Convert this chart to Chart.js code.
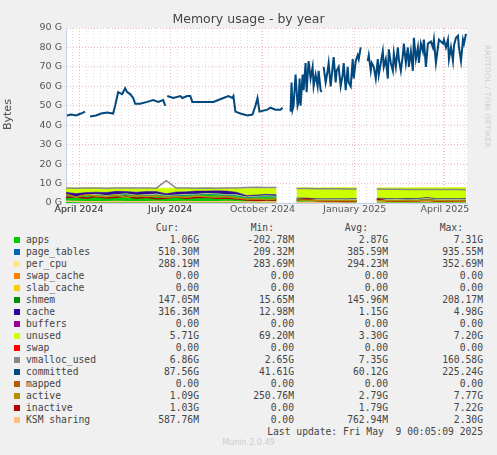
<!DOCTYPE html>
<html><head><meta charset="utf-8">
<script src="https://cdn.jsdelivr.net/npm/chart.js@4/dist/chart.umd.min.js"></script>
<style>
body{margin:0;background:#f0f0f0;width:497px;height:455px;overflow:hidden;font-family:"DejaVu Sans",sans-serif;position:relative}
#wrap{position:absolute;left:0;top:0;width:497px;height:220px}
.t{position:absolute;white-space:pre}
#title{left:0;width:497px;top:11px;text-align:center;font-size:12.5px;color:#444}
#ylab{left:-8px;top:108px;transform:rotate(-90deg);font-size:11px;color:#444}
#side{left:436px;top:92px;transform:rotate(90deg);font-size:7.5px;color:#ccc;letter-spacing:.3px}
#leg{position:absolute;left:0;top:222px;font-family:"DejaVu Sans Mono",monospace;font-size:9.7px;color:#444}
.row{position:absolute;height:12px;white-space:pre}
.sw{position:absolute;left:14px;width:6px;height:6px;top:3px}
.nm{position:absolute;left:26px}
.v{position:absolute;text-align:right;width:90px}
#munin{left:0;width:497px;top:438px;text-align:center;font-size:8px;color:#ccc}
</style></head><body>
<div id="wrap"><canvas id="c"></canvas></div>
<div class="t" id="title">Memory usage - by year</div>
<div class="t" id="ylab">Bytes</div>
<div class="t" id="side">RRDTOOL / TOBI OETIKER</div>
<div id="leg"></div>
<div class="t" id="munin">Munin 2.0.49</div>
<script>
const $ = (id) => document.getElementById(id);

// x is days since 2024-03-19
const MONTH_DAYS = [13, 104, 196, 288, 378];
const MONTH_LABELS = ['April 2024', 'July 2024', 'October 2024', 'January 2025', 'April 2025'];

const COMMIT_DAYS = [1, 5, 10, 15, 19, 21, 24, 30, 35, 41, 47, 49, 52, 56, 59, 61, 64, 67, 69, 74, 81, 87, 92, 97, 99, 100,
  101, 107, 114, 116, 121, 124, 126, 134, 147, 152, 157, 162, 166, 167, 169, 174, 181, 186, 189, 191, 193, 201, 204, 209, 214, 216, 220,
  224, 225, 226, 227, 229, 231, 232, 233, 234, 236, 237, 239, 240, 241, 242, 244, 246, 247, 249, 251, 252, 254, 255, 256,
  257, 259, 261, 262, 264, 266, 267, 269, 270, 272, 274, 276, 277, 279, 281, 282, 284, 286, 287, 289, 291, 292, 294, 297,
  301, 302, 304, 305, 307, 309, 311, 312, 314, 316, 317, 319, 321, 322, 324, 326, 327, 329, 331, 332, 334, 336, 337, 339,
  341, 342, 344, 346, 347, 349, 351, 352, 354, 356, 357, 359, 361, 364, 366, 367, 369, 371, 372, 374, 376, 377, 379,
  381, 382, 384, 386, 387, 389, 391, 392, 394, 396, 397, 399];
const COMMITTED = [45, 45.5, 45, 46, 47, null, 44.5, 45, 46, 46.5, 46, 50, 57, 56, 59, 57, 56, 54, 51, 51, 52, 53, 52, 53, 50, null,
  55, 54, 55, 54, 55, 55, 52, 52, 52, 53, 54, 55, 54, 55, 47, 46, 45, 45.5, 50, 54, 47, 48, 49, 48, 48, 49, null,
  47, 62, 48, 50, 66, 50, 52, 64, 50, 66, 58, 72, 57, 65, 73, 64, 70, 60, 66, 60, 68, 58, 57, null,
  70, 62, 68, 72, 60, 70, 75, 62, 68, 70, 60, 66, 72, 58, 70, 62, 60, 74, 64, 73, 76, 74, 80, null,
  73, 76, 68, 72, 70, 64, 74, 66, 72, 78, 70, 74, 64, 79, 72, 68, 77, 70, 80, 74, 68, 76, 82, 72,
  80, 70, 78, 68, 85, 74, 80, 72, 82, 78, 84, 70, 82, 83, 80, 84, 72, 80, 84, 83, 82, 84, 80,
  84, 74, 80, 73, 81, 85, 86, 80, 73, 84, 82, 87];

const DAYS = [0, 10, 20, 30, 40, 50, 60, 70, 80, 90, 100, 110, 120, 130, 140, 150, 160, 170, 180, 190, 200, 210, 220,
  230, 240, 250, 260, 270, 280, 290, 300, 310, 320, 330, 340, 350, 360, 370, 380, 390, 399];
const APPS = [3.0, 2.6, 3.4, 3.8, 3.2, 3.6, 4.0, 3.3, 3.5, 3.9, 3.1, 3.4, 3.7, 3.8, 4.2, 4.0, 3.6, 3.5, 2.4, 2.8, 3.0, 2.7, null,
  1.4, 1.2, 1.1, 1.0, 1.1, 1.0, 1.2, null, 1.3, 1.1, 1.0, 1.2, 1.1, 1.5, 1.0, 1.1, 1.0, 1.06];
const PAGE_TABLES = [0.3, 0.3, 0.3, 0.35, 0.35, 0.35, 0.4, 0.4, 0.4, 0.4, 0.4, 0.4, 0.4, 0.4, 0.4, 0.4, 0.4, 0.4, 0.4, 0.4, 0.4, 0.4, null,
  0.4, 0.4, 0.4, 0.4, 0.4, 0.4, 0.4, null, 0.45, 0.45, 0.45, 0.45, 0.5, 0.5, 0.5, 0.5, 0.5, 0.51];
const PER_CPU = [0.29, 0.29, 0.29, 0.29, 0.29, 0.29, 0.29, 0.29, 0.29, 0.29, 0.29, 0.29, 0.29, 0.29, 0.29, 0.29, 0.29, 0.29, 0.29, 0.29, 0.29, 0.29, null,
  0.29, 0.29, 0.29, 0.29, 0.29, 0.29, 0.29, null, 0.29, 0.29, 0.29, 0.29, 0.29, 0.29, 0.29, 0.29, 0.29, 0.29];
const SHMEM = [0.14, 0.14, 0.15, 0.15, 0.15, 0.15, 0.15, 0.15, 0.15, 0.15, 0.15, 0.15, 0.15, 0.15, 0.15, 0.15, 0.15, 0.15, 0.15, 0.15, 0.15, 0.15, null,
  0.14, 0.14, 0.14, 0.14, 0.14, 0.14, 0.14, null, 0.15, 0.15, 0.15, 0.15, 0.15, 0.15, 0.15, 0.15, 0.15, 0.15];
const CACHE = [1.8, 1.5, 1.2, 1.0, 1.4, 1.6, 1.1, 1.4, 1.6, 1.2, 0.8, 1.4, 1.2, 1.5, 1.1, 1.4, 1.7, 1.2, 0.6, 0.5, 0.6, 0.7, null,
  0.4, 0.5, 0.3, 0.3, 0.3, 0.3, 0.3, null, 0.3, 0.3, 0.3, 0.3, 0.3, 0.4, 0.3, 0.3, 0.3, 0.32];
const UNUSED = [2.2, 2.9, 2.6, 2.2, 2.2, 1.9, 1.8, 2.2, 1.8, 1.8, 2.9, 2.1, 2.0, 1.6, 1.7, 1.5, 1.5, 2.1, 3.8, 3.5, 3.2, 3.4, null,
  5.2, 5.4, 5.6, 5.8, 5.7, 5.8, 5.6, null, 5.4, 5.6, 5.7, 5.5, 5.6, 5.1, 5.7, 5.6, 5.7, 5.71];
const VMALLOC = [7.7, 7.6, 7.7, 7.7, 7.6, 7.7, 7.7, 7.7, 7.7, 7.6, 11.5, 7.7, 7.7, 7.6, 7.7, 7.6, 7.7, 7.7, 8.0, 8.1, 8.0, 8.0, null,
  7.4, 7.4, 7.3, 7.3, 7.3, 7.2, 7.2, null, 7.2, 7.1, 7.1, 7.0, 7.0, 7.0, 6.9, 6.9, 6.9, 6.86];
const ACTIVE = [4.5, 3.0, 4.2, 3.6, 3.2, 4.0, 3.0, 3.8, 3.4, 3.6, 2.8, 3.4, 3.0, 3.6, 3.2, 3.0, 3.4, 2.6, 2.0, 2.2, 1.8, 2.0, null,
  1.6, 1.4, 1.3, 1.2, 1.2, 1.2, 1.1, null, 1.2, 1.2, 1.1, 1.3, 1.2, 1.6, 1.1, 1.2, 1.1, 1.09];
const INACTIVE = [2.8, 3.2, 2.4, 3.4, 2.6, 2.9, 3.5, 2.4, 3.0, 2.2, 2.5, 3.2, 2.3, 2.8, 3.0, 2.4, 2.6, 2.2, 1.5, 1.4, 1.6, 1.5, null,
  1.4, 2.0, 1.2, 0.9, 0.9, 0.8, 0.9, null, 2.0, 1.0, 0.9, 0.9, 1.0, 1.4, 0.9, 0.9, 1.0, 1.03];
const KSM = [0.9, 0.8, 0.7, 0.6, 0.7, 0.8, 0.7, 0.6, 0.7, 0.8, 0.6, 0.7, 0.8, 0.7, 0.6, 0.7, 0.8, 0.6, 0.5, 0.5, 0.6, 0.5, null,
  0.3, 0.4, 0.4, 0.5, 0.5, 0.5, 0.6, null, 0.6, 0.6, 0.6, 0.6, 0.6, 0.6, 0.6, 0.6, 0.6, 0.59];

const LEGEND = [
  ['apps', '#00cc00', '1.06G', '-202.78M', '2.87G', '7.31G'],
  ['page_tables', '#0066b3', '510.30M', '209.32M', '385.59M', '935.55M'],
  ['per_cpu', '#ffe680', '288.19M', '283.69M', '294.23M', '352.69M'],
  ['swap_cache', '#ff8000', '0.00', '0.00', '0.00', '0.00'],
  ['slab_cache', '#ffcc00', '0.00', '0.00', '0.00', '0.00'],
  ['shmem', '#008f00', '147.05M', '15.65M', '145.96M', '208.17M'],
  ['cache', '#330099', '316.36M', '12.98M', '1.15G', '4.98G'],
  ['buffers', '#990099', '0.00', '0.00', '0.00', '0.00'],
  ['unused', '#ccff00', '5.71G', '69.20M', '3.30G', '7.20G'],
  ['swap', '#ff0000', '0.00', '0.00', '0.00', '0.00'],
  ['vmalloc_used', '#888888', '6.86G', '2.65G', '7.35G', '160.58G'],
  ['committed', '#00487d', '87.56G', '41.61G', '60.12G', '225.24G'],
  ['mapped', '#b35a00', '0.00', '0.00', '0.00', '0.00'],
  ['active', '#b38f00', '1.09G', '250.76M', '2.79G', '7.77G'],
  ['inactive', '#b30000', '1.03G', '0.00', '1.79G', '7.22G'],
  ['KSM sharing', '#ffbf80', '587.76M', '0.00', '762.94M', '2.30G'],
];

const pts = (xs, ys) => xs.map((x, i) => ({ x, y: ys[i] }));

function area(label, color, ys, first) {
  return { label, data: pts(DAYS, ys), backgroundColor: color, borderColor: color, borderWidth: 0.5,
    fill: first ? 'origin' : '-1', stack: 'mem', order: 2, pointRadius: 0, spanGaps: false };
}
function line(label, color, xs, ys, w) {
  return { label, data: pts(xs, ys), borderColor: color, borderWidth: w, fill: false,
    stack: label, order: 1, pointRadius: 0, spanGaps: false };
}

const isMonth = (v) => MONTH_DAYS.includes(v);

new Chart($('c'), {
  type: 'line',
  data: {
    datasets: [
      area('apps', '#00cc00', APPS, true),
      area('page_tables', '#0066b3', PAGE_TABLES),
      area('per_cpu', '#ffe680', PER_CPU),
      area('shmem', '#008f00', SHMEM),
      area('cache', '#330099', CACHE),
      area('unused', '#ccff00', UNUSED),
      line('vmalloc_used', '#888888', DAYS, VMALLOC, 1.5),
      line('committed', '#00487d', COMMIT_DAYS, COMMITTED, 2),
      line('active', '#b38f00', DAYS, ACTIVE, 1.5),
      line('inactive', '#b30000', DAYS, INACTIVE, 1.5),
      line('KSM sharing', '#ffbf80', DAYS, KSM, 1.5),
    ],
  },
  options: {
    responsive: true,
    maintainAspectRatio: false,
    animation: false,
    layout: { padding: { left: 0, top: 28, right: 30, bottom: 0 } },
    plugins: { legend: { display: false }, tooltip: { enabled: false } },
    scales: {
      x: {
        type: 'linear', min: 0, max: 400,
        afterBuildTicks: (s) => {
          const t = [];
          for (let d = 6; d <= 400; d += 7) t.push({ value: d });
          MONTH_DAYS.forEach((d) => t.push({ value: d }));
          s.ticks = t.sort((a, b) => a.value - b.value);
        },
        afterFit: (s) => { s.height = 17; },
        ticks: {
          autoSkip: false, maxRotation: 0, color: '#555', padding: 1,
          font: { family: 'DejaVu Sans', size: 9.5 },
          callback: (v) => (isMonth(v) ? MONTH_LABELS[MONTH_DAYS.indexOf(v)] : ''),
        },
        grid: {
          color: (c) => (c.tick && isMonth(c.tick.value) ? '#eebcbc' : '#e0e0e0'),
          drawTicks: false,
        },
        border: { color: '#c8d0f0', dash: [1, 2] },
      },
      y: {
        stacked: true, min: 0, max: 90,
        afterFit: (s) => { s.width = 66; },
        ticks: {
          stepSize: 5, color: '#555', padding: 4,
          font: { family: 'DejaVu Sans', size: 9.5 },
          callback: (v) => (v % 10 === 0 ? v + ' G' : ''),
        },
        grid: {
          color: (c) => (c.tick && c.tick.value % 10 === 0 ? '#eebcbc' : '#e0e0e0'),
          drawTicks: false,
        },
        border: { color: '#c8d0f0', dash: [1, 2] },
      },
    },
  },
  plugins: [{
    id: 'bg',
    beforeDraw: (ch) => {
      const a = ch.chartArea, g = ch.ctx;
      g.save(); g.fillStyle = '#fff'; g.fillRect(a.left, a.top, a.right - a.left, a.bottom - a.top); g.restore();
    },
  }],
});

function legend() {
  const el = $('leg');
  const cols = [109, 204, 298, 393];
  let html = '<div class="row" style="top:0">' + ['Cur:', 'Min:', 'Avg:', 'Max:']
    .map((h, i) => `<span class="v" style="left:${cols[i] - 20}px">${h}</span>`).join('') + '</div>';
  LEGEND.forEach((r, i) => {
    const top = 12 + i * 12;
    html += `<div class="row" style="top:${top}px"><span class="sw" style="background:${r[1]}"></span>` +
      `<span class="nm">${r[0]}</span>` +
      r.slice(2).map((v, j) => `<span class="v" style="left:${cols[j]}px">${v}</span>`).join('') + '</div>';
  });
  html += `<div class="row" style="top:${12 + LEGEND.length * 12}px"><span class="v" style="left:183px;width:300px">Last update: Fri May  9 00:05:09 2025</span></div>`;
  el.innerHTML = html;
}
legend();
</script>
</body></html>
